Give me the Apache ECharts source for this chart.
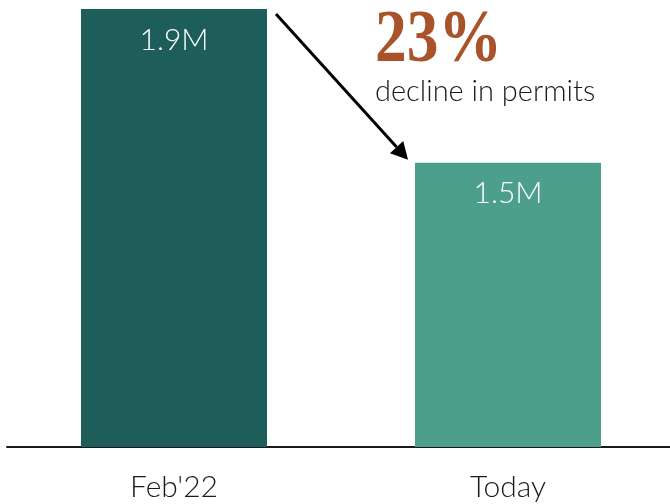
<!DOCTYPE html>
<html><head><meta charset="utf-8">
<script src="https://cdn.jsdelivr.net/npm/echarts@6/dist/echarts.min.js"></script>
<style>html,body{margin:0;padding:0;background:#fff}#c{width:670px;height:504px}</style>
</head><body><div id="c"></div>
<script>
const categories = ["Feb'22", "Today"];
const values = [1.9, 1.5];
const valueLabels = ["1.9M", "1.5M"];
const barColors = ["#1d5d5a", "#4ca08b"];
const headline = "23%";
const subline = "decline in permits";

const chart = echarts.init(document.getElementById('c'), null, {renderer: 'canvas'});
const FONT = 'Lato';
chart.setOption({
  animation: false,
  grid: {left: 7, width: 668, top: 9, bottom: 57, outerBoundsMode: 'none', containLabel: false},
  xAxis: {
    type: 'category', data: categories,
    axisLine: {show: true, lineStyle: {color: '#1a1a1a', width: 2}},
    axisTick: {show: false},
    axisLabel: {margin: 25, fontFamily: FONT, fontWeight: 300, fontSize: 30, color: '#1a1a1a'}
  },
  yAxis: {type: 'value', min: 0.76, max: 1.9, show: false, splitLine: {show: false}},
  series: [{
    type: 'bar', barWidth: 186,
    data: values.map((v, i) => ({value: v, itemStyle: {color: barColors[i]}})),
    label: {
      show: true, position: 'insideTop', distance: 16,
      formatter: p => valueLabels[p.dataIndex],
      color: '#fff', fontFamily: FONT, fontWeight: 300, fontSize: 30
    }
  }]
});

function drawAnno() {
  const p1 = chart.convertToPixel({seriesIndex: 0}, [0, values[0]]);
  const p2 = chart.convertToPixel({seriesIndex: 0}, [1, values[1]]);
  const half = 93;
  const x1 = p1[0] + half + 9, y1 = p1[1] + 5;
  const x2 = p2[0] - half - 7, y2 = p2[1] - 3;
  const ang = Math.atan2(y2 - y1, x2 - x1);
  const hl = 17, hw = 9;
  const bx = x2 - hl * Math.cos(ang), by = y2 - hl * Math.sin(ang);
  const nx = -Math.sin(ang), ny = Math.cos(ang);
  const tx = p2[0] - half - 40;
  chart.setOption({
    graphic: [
      {type: 'line', shape: {x1: x1, y1: y1, x2: bx, y2: by}, style: {stroke: '#000', lineWidth: 3}},
      {type: 'polygon', shape: {points: [[x2, y2], [bx + nx * hw, by + ny * hw], [bx - nx * hw, by - ny * hw]]}, style: {fill: '#000'}},
      {type: 'text', x: tx, y: 6, scaleX: 0.87, style: {text: headline, fill: '#a9532a', font: 'bold 73px "Liberation Serif"'}},
      {type: 'text', x: tx, y: 77, style: {text: subline, fill: '#1a1a1a', font: '300 29px ' + FONT}}
    ]
  });
}
drawAnno();
</script></body></html>
